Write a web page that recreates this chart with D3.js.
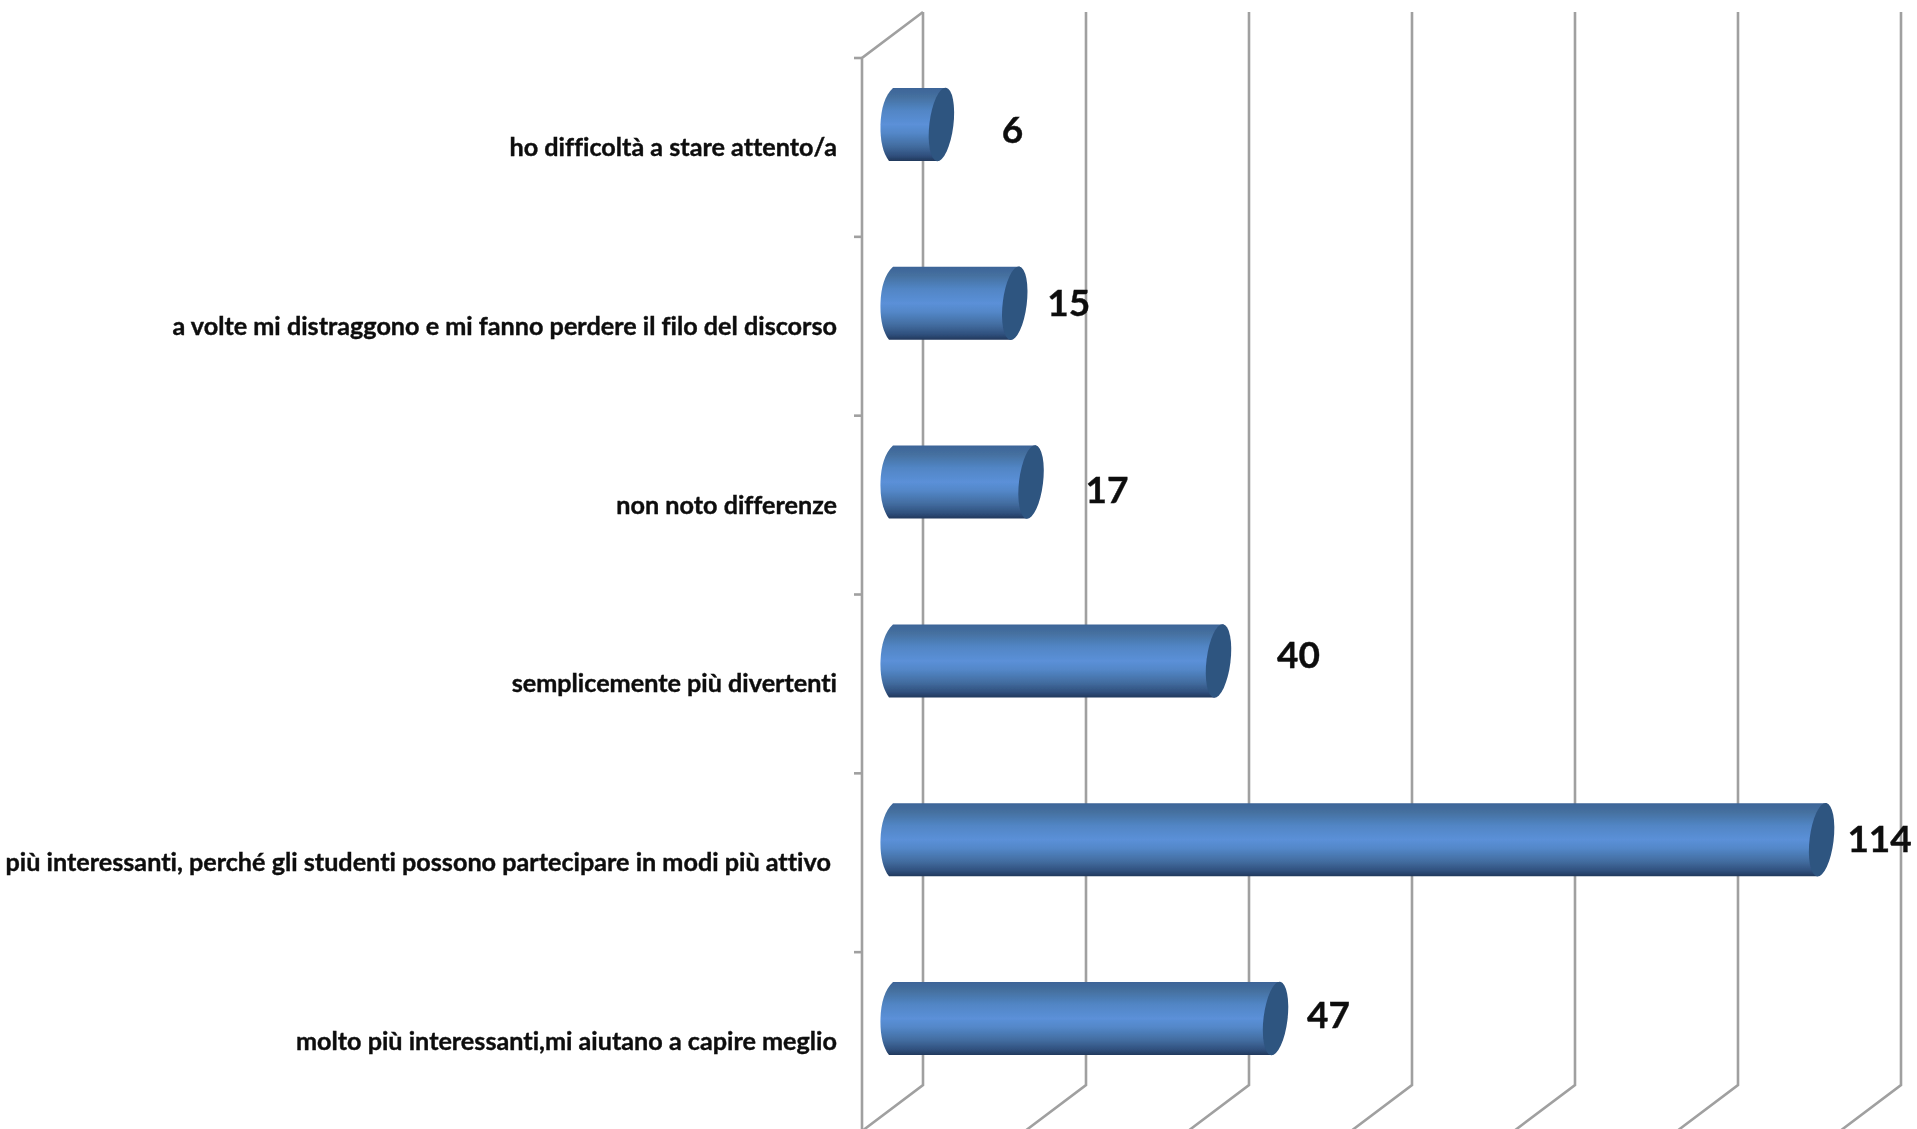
<!DOCTYPE html>
<html>
<head>
<meta charset="utf-8">
<script src="https://cdn.jsdelivr.net/npm/d3@7/dist/d3.min.js"></script>
<style>
html,body{margin:0;padding:0;background:#fff;overflow:hidden}
svg{display:block}
text{font-family:Lato,"Open Sans",sans-serif;font-weight:700;fill:#0d0d0d;stroke:#0d0d0d;stroke-width:.4px;font-variant-ligatures:none}
</style>
</head>
<body>
<svg id="c" width="1917" height="1129"></svg>
<script>
const categories = [
  "ho difficoltà a stare attento/a",
  "a volte mi distraggono e mi fanno perdere il filo del discorso",
  "non noto differenze",
  "semplicemente più divertenti",
  "più interessanti, perché gli studenti possono partecipare in modi più attivo ",
  "molto più interessanti,mi aiutano a capire meglio"
];
const values = [6, 15, 17, 40, 114, 47];
const xTicks = [0, 20, 40, 60, 80, 100, 120];

// Layout
const W = 1917, H = 1129;
const depthX = 30.5, depthY = 23;
const x = d3.scaleLinear().domain([0, 120]).range([892.5, 1870.5]);
const y = d3.scaleBand().domain(categories).range([58, 1131]);
const labelFont = 25.2, valueFont = 37;
const barHalf = 36.5, capRx = 12, capRy = 37, capRot = 7;
// Hand-placed data label shifts of the original chart, [dx, dy] from the bar end
const valueShift = [[59, 6], [42, 0], [64, 8], [68, -6], [46, -1], [41, -4]];

const svg = d3.select("#c");
const defs = svg.append("defs");
const f = defs.append("filter").attr("id", "soft")
  .attr("filterUnits", "userSpaceOnUse")
  .attr("x", 0).attr("y", 0)
  .attr("width", W).attr("height", H);
f.append("feGaussianBlur").attr("stdDeviation", 0.6);

const grad = defs.append("linearGradient").attr("id", "body")
  .attr("x1", 0).attr("x2", 0).attr("y1", 0).attr("y2", 1);
[[0, "#3d6498"], [0.12, "#45709f"], [0.3, "#5185c4"], [0.5, "#5b90d8"], [0.62, "#5387c8"],
 [0.8, "#426c9f"], [0.93, "#2f4f7c"], [1, "#22385c"]]
  .forEach(([o, c]) => grad.append("stop").attr("offset", o).attr("stop-color", c));

const root = svg.append("g").attr("filter", "url(#soft)");
const gridColor = "#a0a0a0";
const gridG = root.append("g").attr("stroke", gridColor).attr("stroke-width", 2.6).attr("fill", "none");

const yTop = y.range()[0], yBottom = y.range()[1];

// back wall gridlines and their floor runs
gridG.selectAll("path.grid").data(xTicks).join("path").attr("class", "grid")
  .attr("d", v => {
    const gx = x(v) + depthX;
    return `M${gx},${yTop - 2 * depthY}V${yBottom - 2 * depthY}L${gx - 2 * depthX},${yBottom}`;
  });
// side wall
gridG.append("path")
  .attr("d", `M${x(0) - depthX},${yBottom}V${yTop}L${x(0) + depthX},${yTop - 2 * depthY}`);
// category ticks
const tickEdges = categories.map(c => y(c)).concat([yBottom]);
gridG.selectAll("line.tick").data(tickEdges).join("line").attr("class", "tick")
  .attr("x1", x(0) - depthX - 8).attr("x2", x(0) - depthX)
  .attr("y1", d => d).attr("y2", d => d);

// bars
const bars = root.selectAll("g.bar").data(categories.map((c, i) => ({c, v: values[i], i})))
  .join("g").attr("class", "bar");
const cy = d => y(d.c) + y.bandwidth() / 2 - depthY;
const lean = 5, leanBase = 2;
bars.append("path").attr("fill", "url(#body)")
  .attr("d", d => {
    const x0 = x(0) - 1.5, x1 = x(d.v), c = cy(d);
    return `M${x0 + leanBase},${c - barHalf}L${x1 + lean},${c - barHalf}` +
      `A${capRx} ${capRy} ${capRot} 0 1 ${x1 - lean},${c + barHalf}L${x0 - leanBase},${c + barHalf}` +
      `C${x0 - 8},${c + barHalf - 8} ${x0 - 11},${c + 16} ${x0 - 10.5},${c}` +
      `C${x0 - 10},${c - 16} ${x0 - 6},${c - barHalf + 7} ${x0 + leanBase},${c - barHalf}Z`;
  });
bars.append("ellipse").attr("fill", "#2f5480")
  .attr("rx", capRx).attr("ry", capRy)
  .attr("transform", d => `translate(${x(d.v)},${cy(d)}) rotate(${capRot})`);

// category labels
root.selectAll("text.cat").data(categories).join("text").attr("class", "cat")
  .attr("x", 837)
  .attr("y", d => y(d) + y.bandwidth() / 2 + 8.5)
  .attr("text-anchor", "end")
  .attr("font-size", labelFont)
  .style("white-space", "pre")
  .text(d => d);

// value labels
root.selectAll("text.val").data(values).join("text").attr("class", "val")
  .attr("x", (d, i) => x(d) + valueShift[i][0] + capRx)
  .attr("y", (d, i) => y(categories[i]) + y.bandwidth() / 2 - depthY + valueShift[i][1] + 13)
  .attr("text-anchor", "middle")
  .attr("font-size", valueFont)
  .text(d => d);
</script>
</body>
</html>
